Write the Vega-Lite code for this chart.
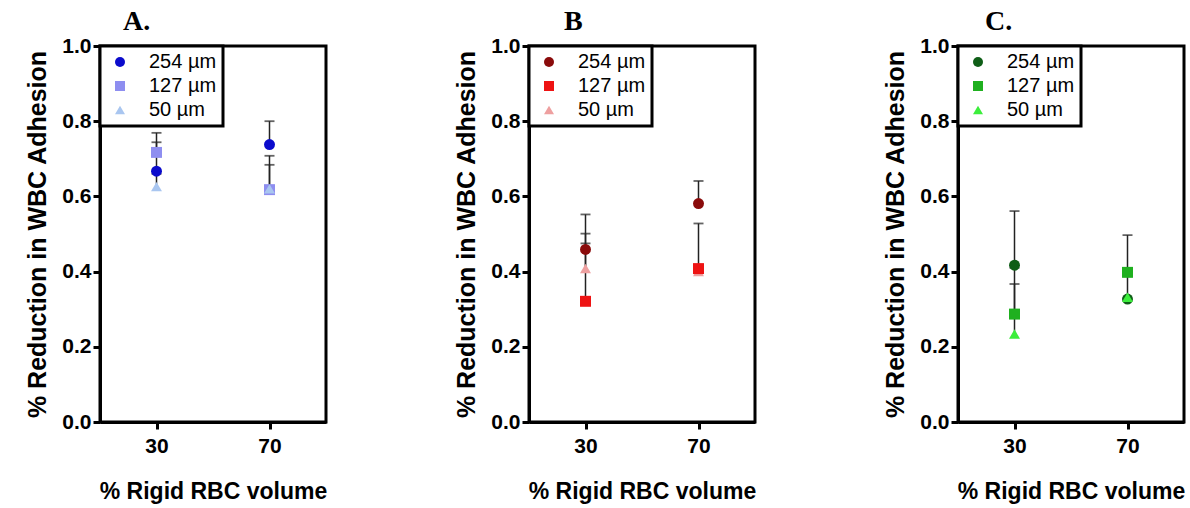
{
  "$schema": "https://vega.github.io/schema/vega-lite/v6.json",
  "padding": {"left": 24, "top": 6, "right": 0, "bottom": 0},
  "background": "white",
  "spacing": 124,
  "datasets": {
    "pts": [
      {"panel": "A", "vol": "30", "size": "254 µm", "value": 0.667, "upper": 0.744},
      {"panel": "A", "vol": "30", "size": "127 µm", "value": 0.717, "upper": 0.769},
      {"panel": "A", "vol": "30", "size": "50 µm", "value": 0.626, "upper": 0.66},
      {"panel": "A", "vol": "70", "size": "254 µm", "value": 0.738, "upper": 0.80},
      {"panel": "A", "vol": "70", "size": "127 µm", "value": 0.618, "upper": 0.708},
      {"panel": "A", "vol": "70", "size": "50 µm", "value": 0.62, "upper": 0.684},
      {"panel": "B", "vol": "30", "size": "254 µm", "value": 0.459, "upper": 0.475},
      {"panel": "B", "vol": "30", "size": "127 µm", "value": 0.321, "upper": 0.501},
      {"panel": "B", "vol": "30", "size": "50 µm", "value": 0.408, "upper": 0.552},
      {"panel": "B", "vol": "70", "size": "254 µm", "value": 0.581, "upper": 0.641},
      {"panel": "B", "vol": "70", "size": "50 µm", "value": 0.40, "upper": null},
      {"panel": "B", "vol": "70", "size": "127 µm", "value": 0.408, "upper": 0.528},
      {"panel": "C", "vol": "30", "size": "254 µm", "value": 0.417, "upper": 0.561},
      {"panel": "C", "vol": "30", "size": "127 µm", "value": 0.287, "upper": 0.367},
      {"panel": "C", "vol": "30", "size": "50 µm", "value": 0.234, "upper": 0.41},
      {"panel": "C", "vol": "70", "size": "254 µm", "value": 0.327, "upper": 0.39},
      {"panel": "C", "vol": "70", "size": "50 µm", "value": 0.332, "upper": null},
      {"panel": "C", "vol": "70", "size": "127 µm", "value": 0.398, "upper": 0.497}
    ]
  },
  "resolve": {"scale": {"color": "independent", "shape": "independent", "x": "independent", "y": "independent"}, "legend": {"color": "independent", "shape": "independent"}},
  "hconcat": [
    {
      "width": 226, "height": 376,
      "title": {"text": "A.", "anchor": "start", "frame": "group", "dx": 23},
      "data": {"name": "pts"},
      "transform": [{"filter": "datum.panel === 'A'"}],
      "encoding": {
        "x": {"field": "vol", "type": "ordinal", "sort": ["30", "70"], "scale": {"type": "point", "padding": 0.5}, "axis": {"title": "% Rigid RBC volume"}},
        "y": {"field": "value", "type": "quantitative", "scale": {"domain": [0, 1], "nice": false}, "axis": {"title": "% Reduction in WBC Adhesion", "values": [0, 0.2, 0.4, 0.6, 0.8, 1.0], "format": ".1f"}}
      },
      "layer": [
        {"transform": [{"filter": "datum.upper != null"}], "mark": {"type": "rule", "color": "#222", "strokeWidth": 1.5}, "encoding": {"y2": {"field": "upper"}}},
        {"transform": [{"filter": "datum.upper != null"}], "mark": {"type": "tick", "color": "#222", "thickness": 1.8, "size": 10}, "encoding": {"y": {"field": "upper", "type": "quantitative"}}},
        {"mark": {"type": "point", "filled": true, "opacity": 1, "size": 120},
         "encoding": {
           "color": {"field": "size", "type": "nominal", "scale": {"domain": ["254 µm", "127 µm", "50 µm"], "range": ["#0b0bcc", "#8e8ef0", "#a9c6f0"]}, "legend": {"title": null}},
           "shape": {"field": "size", "type": "nominal", "scale": {"domain": ["254 µm", "127 µm", "50 µm"], "range": ["circle", "square", "triangle-up"]}, "legend": {"title": null}}
         }}
      ]
    },
    {
      "width": 226, "height": 376,
      "title": {"text": "B", "anchor": "start", "frame": "group", "dx": 35},
      "data": {"name": "pts"},
      "transform": [{"filter": "datum.panel === 'B'"}],
      "encoding": {
        "x": {"field": "vol", "type": "ordinal", "sort": ["30", "70"], "scale": {"type": "point", "padding": 0.5}, "axis": {"title": "% Rigid RBC volume"}},
        "y": {"field": "value", "type": "quantitative", "scale": {"domain": [0, 1], "nice": false}, "axis": {"title": "% Reduction in WBC Adhesion", "values": [0, 0.2, 0.4, 0.6, 0.8, 1.0], "format": ".1f"}}
      },
      "layer": [
        {"transform": [{"filter": "datum.upper != null"}], "mark": {"type": "rule", "color": "#222", "strokeWidth": 1.5}, "encoding": {"y2": {"field": "upper"}}},
        {"transform": [{"filter": "datum.upper != null"}], "mark": {"type": "tick", "color": "#222", "thickness": 1.8, "size": 10}, "encoding": {"y": {"field": "upper", "type": "quantitative"}}},
        {"mark": {"type": "point", "filled": true, "opacity": 1, "size": 120},
         "encoding": {
           "color": {"field": "size", "type": "nominal", "scale": {"domain": ["254 µm", "127 µm", "50 µm"], "range": ["#8a0b0b", "#ee1313", "#eea0a0"]}, "legend": {"title": null}},
           "shape": {"field": "size", "type": "nominal", "scale": {"domain": ["254 µm", "127 µm", "50 µm"], "range": ["circle", "square", "triangle-up"]}, "legend": {"title": null}}
         }}
      ]
    },
    {
      "width": 226, "height": 376,
      "title": {"text": "C.", "anchor": "start", "frame": "group", "dx": 27},
      "data": {"name": "pts"},
      "transform": [{"filter": "datum.panel === 'C'"}],
      "encoding": {
        "x": {"field": "vol", "type": "ordinal", "sort": ["30", "70"], "scale": {"type": "point", "padding": 0.5}, "axis": {"title": "% Rigid RBC volume"}},
        "y": {"field": "value", "type": "quantitative", "scale": {"domain": [0, 1], "nice": false}, "axis": {"title": "% Reduction in WBC Adhesion", "values": [0, 0.2, 0.4, 0.6, 0.8, 1.0], "format": ".1f"}}
      },
      "layer": [
        {"transform": [{"filter": "datum.upper != null"}], "mark": {"type": "rule", "color": "#222", "strokeWidth": 1.5}, "encoding": {"y2": {"field": "upper"}}},
        {"transform": [{"filter": "datum.upper != null"}], "mark": {"type": "tick", "color": "#222", "thickness": 1.8, "size": 10}, "encoding": {"y": {"field": "upper", "type": "quantitative"}}},
        {"mark": {"type": "point", "filled": true, "opacity": 1, "size": 120},
         "encoding": {
           "color": {"field": "size", "type": "nominal", "scale": {"domain": ["254 µm", "127 µm", "50 µm"], "range": ["#0f5e17", "#1fb01f", "#3cee3c"]}, "legend": {"title": null}},
           "shape": {"field": "size", "type": "nominal", "scale": {"domain": ["254 µm", "127 µm", "50 µm"], "range": ["circle", "square", "triangle-up"]}, "legend": {"title": null}}
         }}
      ]
    }
  ],
  "config": {
    "view": {"stroke": "black", "strokeWidth": 3},
    "title": {"font": "Liberation Serif", "fontSize": 28, "fontWeight": "bold", "color": "black", "offset": -1},
    "axis": {
      "grid": false,
      "domainColor": "black", "domainWidth": 3,
      "tickColor": "black", "tickWidth": 3, "tickSize": 7,
      "labelFont": "Liberation Sans", "labelFontWeight": "bold", "labelColor": "black", "labelFontSize": 21,
      "titleFont": "Liberation Sans", "titleFontWeight": "bold", "titleColor": "black"
    },
    "axisY": {"labelPadding": 2, "titleFontSize": 25, "titlePadding": 11},
    "axisX": {"labelAngle": 0, "labelPadding": 6, "titleFontSize": 23, "titlePadding": 24},
    "legend": {
      "orient": "top-left", "offset": 0, "padding": 6, "rowPadding": 4,
      "symbolOffset": 4, "labelOffset": 19, "labelFontSize": 20, "labelFont": "Liberation Sans", "labelColor": "black",
      "symbolSize": 100, "strokeColor": "black", "strokeWidth": 3, "fillColor": "white"
    }
  }
}
